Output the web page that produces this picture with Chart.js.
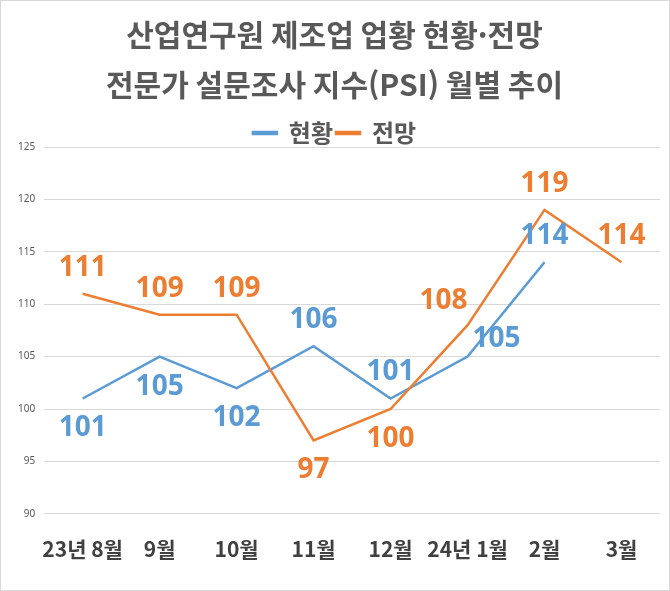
<!DOCTYPE html>
<html lang="ko">
<head>
<meta charset="utf-8">
<title>산업연구원 제조업 업황 현황·전망 PSI</title>
<script src="https://cdn.jsdelivr.net/npm/chart.js@4.4.1/dist/chart.umd.min.js"></script>
<style>
  html, body { margin: 0; padding: 0; background: #fff; }
  #wrap { width: 670px; height: 591px; position: relative; }
</style>
</head>
<body>
<div id="wrap"><canvas id="chart"></canvas></div>
<script>
const months = ['23년 8월', '9월', '10월', '11월', '12월', '24년 1월', '2월', '3월']
const current = [101, 105, 102, 106, 101, 105, 114, null]   // 현황
const outlook = [111, 109, 109, 97, 100, 108, 119, 114]     // 전망
const yTicks = [90, 95, 100, 105, 110, 115, 120, 125]

// where each value label sits relative to its point
const currentLabelPos = ['below', 'below', 'below', 'above', 'above', 'right', 'above', null]
const outlookLabelPos = ['above', 'above', 'above', 'below', 'below', 'left', 'above', 'above']

const BLUE = '#5B9BD5'
const ORANGE = '#ED7D31'

const labelOffsets = {
  above: [0, -26],
  below: [0, 30],
  right: [29, -18],
  left: [-24, -24]
}

const valueLabels = {
  id: 'valueLabels',
  afterDatasetsDraw(chart) {
    const ctx = chart.ctx
    ctx.save()
    ctx.font = 'bold 28px "Open Sans", "Noto Sans", sans-serif'
    ctx.textAlign = 'center'
    ctx.textBaseline = 'middle'
    chart.data.datasets.forEach((ds, i) => {
      const meta = chart.getDatasetMeta(i)
      meta.data.forEach((pt, j) => {
        const v = ds.data[j]
        const pos = ds.labelPos[j]
        if (v == null || !pos) return
        const [dx, dy] = labelOffsets[pos]
        ctx.fillStyle = ds.borderColor
        ctx.fillText(String(v), pt.x + dx, pt.y + dy)
      })
    })
    ctx.restore()
  }
}

// legend sits tight above the plot, drop the extra 10px chart.js adds under it
const tightLegend = {
  id: 'tightLegend',
  beforeInit(chart) {
    const fit = chart.legend.fit
    chart.legend.fit = function () {
      fit.call(this)
      this.height -= 8
    }
  }
}

const frame = {
  id: 'frame',
  beforeDraw(chart) {
    const ctx = chart.ctx
    ctx.save()
    ctx.fillStyle = '#fff'
    ctx.fillRect(0, 0, chart.width, chart.height)
    ctx.strokeStyle = '#d9d9d9'
    ctx.lineWidth = 1
    ctx.strokeRect(0.5, 0.5, chart.width - 1, chart.height - 1)
    ctx.restore()
  }
}

new Chart(document.getElementById('chart'), {
  type: 'line',
  data: {
    labels: months,
    datasets: [
      {
        label: '현황',
        data: current,
        labelPos: currentLabelPos,
        borderColor: BLUE,
        backgroundColor: BLUE,
        borderWidth: 2.5,
        pointRadius: 0,
        tension: 0,
        order: 2
      },
      {
        label: '전망',
        data: outlook,
        labelPos: outlookLabelPos,
        borderColor: ORANGE,
        backgroundColor: ORANGE,
        borderWidth: 2.5,
        pointRadius: 0,
        tension: 0,
        order: 1
      }
    ]
  },
  options: {
    responsive: true,
    maintainAspectRatio: false,
    animation: false,
    layout: {
      padding: { left: 9, right: 10, top: 0, bottom: 14 }
    },
    plugins: {
      title: {
        display: true,
        text: ['산업연구원 제조업 업황 현황·전망', '전문가 설문조사 지수(PSI) 월별 추이'],
        color: '#595959',
        font: { family: '"Noto Sans CJK KR", sans-serif', size: 30, weight: 'bold', lineHeight: 1.65 },
        padding: { top: 10, bottom: 9 }
      },
      legend: {
        display: true,
        position: 'top',
        labels: {
          color: '#595959',
          font: { family: '"Noto Sans CJK KR", sans-serif', size: 24, weight: 'bold', lineHeight: 1 },
          boxWidth: 24,
          boxHeight: 2,
          padding: 3,
          sort: (a, b) => a.datasetIndex - b.datasetIndex
        }
      },
      tooltip: { enabled: false }
    },
    scales: {
      y: {
        min: 90,
        max: 125,
        afterBuildTicks: axis => { axis.ticks = yTicks.map(v => ({ value: v })) },
        grid: { color: '#d9d9d9', drawTicks: false },
        border: { display: false },
        ticks: {
          color: '#595959',
          padding: 9,
          font: { family: '"Noto Sans", sans-serif', size: 10 }
        }
      },
      x: {
        offset: true,
        grid: { display: false },
        border: { display: false },
        ticks: {
          color: '#404040',
          padding: 15,
          maxRotation: 0,
          autoSkip: false,
          font: { family: '"Noto Sans CJK KR", sans-serif', size: 21, weight: 'bold' }
        }
      }
    }
  },
  plugins: [frame, tightLegend, valueLabels]
})
</script>
</body>
</html>
